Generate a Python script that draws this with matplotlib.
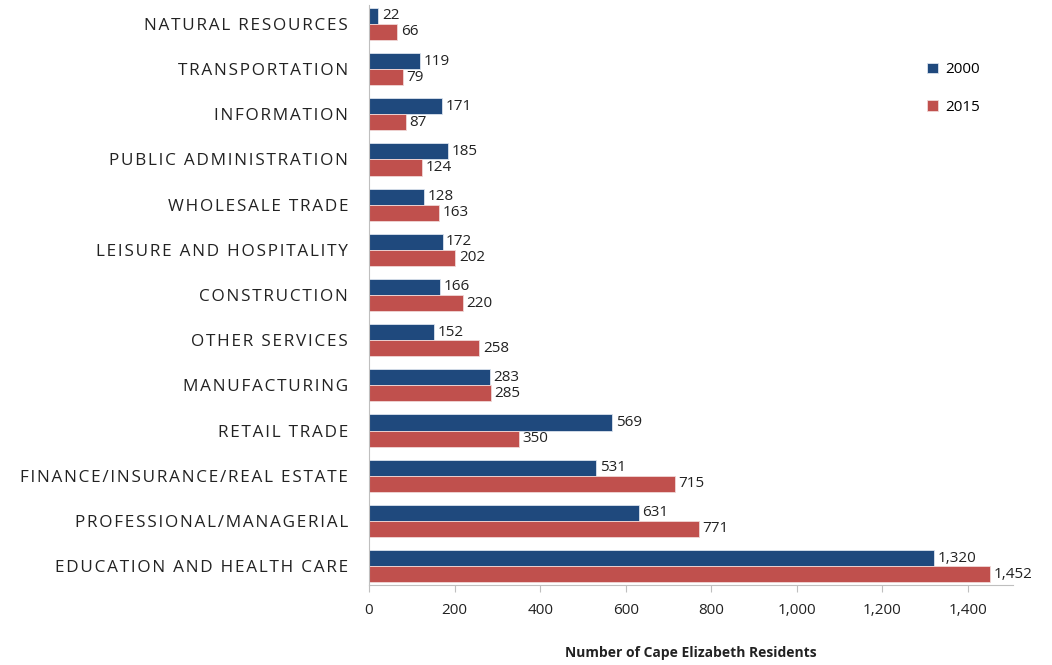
import numpy as np
import matplotlib.pyplot as plt

# categories from top to bottom as in the chart
categories = ["NATURAL RESOURCES", "TRANSPORTATION", "INFORMATION",
              "PUBLIC ADMINISTRATION", "WHOLESALE TRADE",
              "LEISURE AND HOSPITALITY", "CONSTRUCTION", "OTHER SERVICES",
              "MANUFACTURING", "RETAIL TRADE",
              "FINANCE/INSURANCE/REAL ESTATE", "PROFESSIONAL/MANAGERIAL",
              "EDUCATION AND HEALTH CARE"]
values_2000 = [22, 119, 171, 185, 128, 172, 166, 152, 283, 569, 531, 631, 1320]
values_2015 = [66, 79, 87, 124, 163, 202, 220, 258, 285, 350, 715, 771, 1452]
x_ticks = [0, 200, 400, 600, 800, 1000, 1200, 1400]

BLUE = "#1F497D"
RED = "#C0504D"

plt.rcParams['font.family'] = ['Open Sans', 'DejaVu Sans']


def spaced(s):
    # the labels are letter-spaced in the original; mimic with hair spaces
    return "\u200a".join(s)


fig = plt.figure(figsize=(10.52, 6.65), dpi=100)
ax = fig.add_axes([369 / 1052, 1 - 585 / 665, (1013 - 369) / 1052, (585 - 5) / 665])

y = np.arange(len(categories))
h = 0.355
bars_a = ax.barh(y - h / 2, values_2000, height=h, color=BLUE,
                 edgecolor="#dbe3ee", linewidth=0.6, label="2000")
bars_b = ax.barh(y + h / 2, values_2015, height=h, color=RED,
                 edgecolor="#f0d8d7", linewidth=0.6, label="2015")

for bars, vals in ((bars_a, values_2000), (bars_b, values_2015)):
    for b, v in zip(bars, vals):
        ax.text(b.get_width() + 8, b.get_y() + b.get_height() / 2, f"{v:,}",
                va="center", ha="left", fontsize=11, color="#222222")

ax.set_ylim(len(categories) - 0.58, -0.42)
ax.set_xlim(0, 1505)
ax.set_yticks(y)
ax.set_yticklabels([spaced(c) for c in categories], fontsize=12.3, color="#222222")
ax.tick_params(axis="y", length=0, pad=15)
ax.set_xticks(x_ticks)
ax.set_xticklabels([f"{t:,}" for t in x_ticks], fontsize=11, color="#222222")
ax.tick_params(axis="x", direction="out", length=5, color="#bfbfbf", pad=8)

for s in ("top", "right"):
    ax.spines[s].set_visible(False)
for s in ("left", "bottom"):
    ax.spines[s].set_color("#bfbfbf")

ax.set_xlabel("Number of Cape Elizabeth Residents", fontsize=10,
              fontweight="bold", color="#222222", labelpad=20)

ax.legend(loc="upper right", bbox_to_anchor=(0.97, 0.925), frameon=False,
          fontsize=11, handlelength=0.7, handleheight=0.7, labelspacing=1.5,
          handletextpad=0.5)

fig.savefig("out.png", dpi=100)
